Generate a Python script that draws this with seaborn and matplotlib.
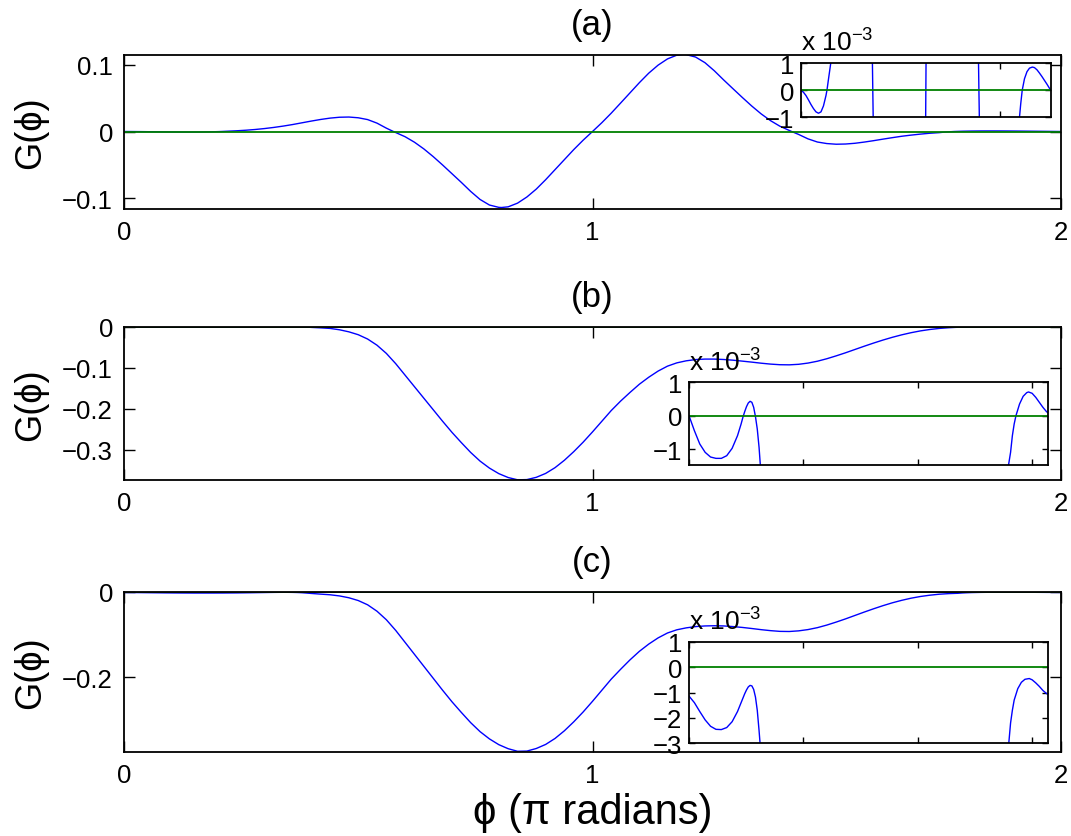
import numpy as np
import matplotlib
matplotlib.use("Agg")
import matplotlib.pyplot as plt
import matplotlib.transforms as mtransforms
import seaborn as sns

# phi in units of pi, G(phi)
phi_a = [0.00, 0.02, 0.04, 0.06, 0.08, 0.10, 0.12, 0.14, 0.16, 0.18, 0.20, 0.208, 0.22,
         0.24, 0.26, 0.28, 0.30, 0.32, 0.34, 0.36, 0.38, 0.40, 0.42, 0.44, 0.46, 0.48,
         0.50, 0.52, 0.54, 0.56, 0.575, 0.60, 0.62, 0.64, 0.66, 0.68, 0.70, 0.72, 0.74,
         0.76, 0.78, 0.80, 0.806, 0.82, 0.84, 0.86, 0.88, 0.90, 0.92, 0.94, 0.96, 0.98,
         1.00, 1.02, 1.04, 1.06, 1.08, 1.10, 1.12, 1.14, 1.16, 1.18, 1.194, 1.20, 1.22,
         1.24, 1.26, 1.28, 1.30, 1.32, 1.34, 1.36, 1.38, 1.40, 1.425, 1.44, 1.46, 1.48,
         1.50, 1.52, 1.54, 1.56, 1.58, 1.60, 1.62, 1.64, 1.66, 1.68, 1.70, 1.72, 1.74,
         1.75, 1.76, 1.772, 1.79, 1.81, 1.83, 1.853, 1.87, 1.89, 1.91, 1.93, 1.95, 1.97,
         1.99, 2.00]
G_a = [0.0, -0.00008, -0.00020, -0.00036, -0.00053, -0.00068, -0.00080, -0.00085,
       -0.00080, -0.00058, -0.00020, 0.0, 0.00040, 0.00105, 0.0019, 0.0030, 0.0044,
       0.0061, 0.0081, 0.0104, 0.0130, 0.0156, 0.0180, 0.0200, 0.0213, 0.0216, 0.0205,
       0.0178, 0.0125, 0.0050, 0.0, -0.0078, -0.0160, -0.0260, -0.0375, -0.0500, -0.0630,
       -0.0760, -0.0895, -0.1015, -0.1098, -0.1133, -0.1135, -0.1125, -0.1070, -0.0978,
       -0.0860, -0.0720, -0.0570, -0.0420, -0.0270, -0.0130, 0.0, 0.0132, 0.0274, 0.0425,
       0.0577, 0.0729, 0.0871, 0.0991, 0.1084, 0.1140, 0.1150, 0.1148, 0.1112, 0.1028,
       0.0907, 0.0770, 0.0638, 0.0507, 0.0380, 0.0263, 0.0162, 0.0079, 0.0, -0.0044,
       -0.0110, -0.0157, -0.0180, -0.0190, -0.0187, -0.0176, -0.0158, -0.0137, -0.0114,
       -0.0092, -0.0071, -0.0054, -0.0039, -0.0026, -0.0017, -0.0010, -0.0005, 0.0,
       0.00042, 0.00068, 0.00081, 0.00085, 0.00083, 0.00075, 0.00063, 0.00050, 0.00036,
       0.00022, 0.00007, 0.0]

phi_b = [0.00, 0.03, 0.06, 0.09, 0.12, 0.15, 0.18, 0.21, 0.24, 0.27, 0.29, 0.30, 0.31,
         0.32, 0.33, 0.34, 0.35, 0.36, 0.37, 0.38, 0.39, 0.40, 0.42, 0.44, 0.46, 0.48,
         0.50, 0.52, 0.54, 0.56, 0.58, 0.60, 0.62, 0.64, 0.66, 0.68, 0.70, 0.72, 0.74,
         0.76, 0.78, 0.80, 0.82, 0.84, 0.86, 0.88, 0.90, 0.92, 0.94, 0.96, 0.98, 1.00,
         1.02, 1.04, 1.06, 1.08, 1.10, 1.12, 1.14, 1.16, 1.18, 1.20, 1.22, 1.24, 1.26,
         1.28, 1.30, 1.32, 1.34, 1.36, 1.38, 1.40, 1.42, 1.44, 1.46, 1.48, 1.50, 1.52,
         1.54, 1.56, 1.58, 1.60, 1.62, 1.64, 1.66, 1.68, 1.70, 1.72, 1.74, 1.76, 1.775,
         1.79, 1.80, 1.81, 1.82, 1.84, 1.86, 1.88, 1.89, 1.91, 1.93, 1.95, 1.97, 1.99, 2.00]
G_b = [0.0, -0.00045, -0.00085, -0.00110, -0.00124, -0.00128, -0.00128, -0.00120,
       -0.00098, -0.00060, -0.00025, -0.00005, 0.00012, 0.00027, 0.00038, 0.00043,
       0.00040, 0.00025, -0.00003, -0.00040, -0.00095, -0.0017, -0.0028, -0.0042,
       -0.0075, -0.0125, -0.0195, -0.0300, -0.0450, -0.0650, -0.0900, -0.1180, -0.1460,
       -0.1740, -0.2020, -0.2300, -0.2570, -0.2820, -0.3060, -0.3270, -0.3440, -0.3575,
       -0.3670, -0.3725, -0.3720, -0.3665, -0.3570, -0.3430, -0.3250, -0.3040, -0.2810,
       -0.2560, -0.2300, -0.2040, -0.1810, -0.1600, -0.1400, -0.1230, -0.1080, -0.0960,
       -0.0880, -0.0830, -0.0800, -0.0788, -0.0788, -0.0798, -0.0815, -0.0838, -0.0862,
       -0.0888, -0.0910, -0.0925, -0.0928, -0.0915, -0.0885, -0.0840, -0.0780, -0.0710,
       -0.0635, -0.0555, -0.0475, -0.0398, -0.0325, -0.0258, -0.0198, -0.0146, -0.0102,
       -0.0068, -0.0042, -0.0025, -0.0016, -0.0011, -0.0006, -0.00025, 0.0, 0.00035,
       0.00058, 0.00069, 0.00071, 0.00067, 0.00055, 0.00040, 0.00025, 0.00012, 0.00008]

phi_c = [0.00, 0.03, 0.06, 0.09, 0.12, 0.15, 0.18, 0.21, 0.24, 0.27, 0.29, 0.31, 0.32,
         0.33, 0.34, 0.35, 0.36, 0.37, 0.38, 0.39, 0.40, 0.42, 0.44, 0.46, 0.48, 0.50,
         0.52, 0.54, 0.56, 0.58, 0.60, 0.62, 0.64, 0.66, 0.68, 0.70, 0.72, 0.74, 0.76,
         0.78, 0.80, 0.82, 0.84, 0.86, 0.88, 0.90, 0.92, 0.94, 0.96, 0.98, 1.00, 1.02,
         1.04, 1.06, 1.08, 1.10, 1.12, 1.14, 1.16, 1.18, 1.20, 1.22, 1.24, 1.26, 1.28,
         1.30, 1.32, 1.34, 1.36, 1.38, 1.40, 1.42, 1.44, 1.46, 1.48, 1.50, 1.52, 1.54,
         1.56, 1.58, 1.60, 1.62, 1.64, 1.66, 1.68, 1.70, 1.72, 1.74, 1.76, 1.78, 1.79,
         1.80, 1.81, 1.83, 1.85, 1.87, 1.894, 1.91, 1.93, 1.95, 1.97, 1.99, 2.00]
G_c = [-0.00114, -0.00140, -0.00175, -0.00208, -0.00233, -0.00245, -0.00246, -0.00238,
       -0.00215, -0.00175, -0.00140, -0.00105, -0.00090, -0.00078, -0.00072, -0.00074,
       -0.00088, -0.00118, -0.00170, -0.0025, -0.0034, -0.0050, -0.0065, -0.0092, -0.0135,
       -0.0200, -0.0300, -0.0450, -0.0650, -0.0900, -0.1180, -0.1460, -0.1740, -0.2020,
       -0.2300, -0.2570, -0.2820, -0.3060, -0.3270, -0.3440, -0.3575, -0.3670, -0.3730,
       -0.3725, -0.3665, -0.3570, -0.3430, -0.3250, -0.3040, -0.2810, -0.2560, -0.2300,
       -0.2040, -0.1810, -0.1590, -0.1390, -0.1220, -0.1075, -0.0960, -0.0885, -0.0840,
       -0.0810, -0.0795, -0.0790, -0.0795, -0.0810, -0.0830, -0.0855, -0.0882, -0.0905,
       -0.0922, -0.0925, -0.0910, -0.0880, -0.0835, -0.0775, -0.0705, -0.0630, -0.0550,
       -0.0470, -0.0393, -0.0320, -0.0253, -0.0195, -0.0145, -0.0105, -0.0075, -0.0052,
       -0.0038, -0.0030, -0.0022, -0.0017, -0.0013, -0.00085, -0.00060, -0.00048,
       -0.00045, -0.00050, -0.00062, -0.00076, -0.00092, -0.00104, -0.00109]

zero_phi = [0.0, 2.0]
zero_G = [0.0, 0.0]

panel_titles = ["(a)", "(b)", "(c)"]
main_yticks = [[-0.1, 0, 0.1], [-0.3, -0.2, -0.1, 0], [-0.2, 0]]
main_ylims = [(-0.115, 0.115), (-0.373, 0.0), (-0.374, 0.0)]
inset_ylims = [(-1, 1), (-1.47, 1), (-3, 1)]
inset_yticks = [[-1, 0, 1], [-1, 0, 1], [-3, -2, -1, 0, 1]]
inset_xticks = [[0, 5], [0, 2, 4, 6], [0, 2, 4, 6]]

sns.set_style("white")
plt.rcParams['font.family'] = ['Liberation Sans', 'DejaVu Sans']
plt.rcParams['mathtext.default'] = 'regular'
for key in ['text.color', 'axes.labelcolor', 'xtick.color', 'ytick.color']:
    plt.rcParams[key] = 'black'

W, H = 1071, 837
fig = plt.figure(figsize=(W / 100, H / 100), dpi=100)


def rect(l, t, r, b):
    return [l / W, 1 - b / H, (r - l) / W, (b - t) / H]


main_rects = [rect(124, 55.5, 1061, 209.5), rect(124, 327.7, 1061, 481),
              rect(124, 593, 1061, 752.7)]
inset_rects = [rect(801, 64, 1050.7, 118.3), rect(689, 383.3, 1048.3, 465.7),
               rect(689, 642.7, 1048.3, 744.3)]

blue = "#0000ff"
green = "#008000"
data = [(phi_a, G_a), (phi_b, G_b), (phi_c, G_c)]


def minus(s):
    return s.replace("-", "\u2212")


for k in range(3):
    phi, G = data[k]
    ax = fig.add_axes(main_rects[k])
    sns.lineplot(x=phi, y=G, ax=ax, color=blue, lw=1.0, estimator=None, sort=False)
    sns.lineplot(x=zero_phi, y=zero_G, ax=ax, color=green, lw=1.3, estimator=None)
    ax.set_xlim(0, 2)
    ax.set_ylim(*main_ylims[k])
    ax.set_xticks([0, 1, 2])
    ax.set_xticklabels(["0", "1", "2"])
    ax.set_yticks(main_yticks[k])
    ax.set_yticklabels([minus("%g" % v) for v in main_yticks[k]])
    ax.tick_params(direction="in", length=8, width=1, labelsize=18.5, pad=8,
                   top=True, right=True, bottom=True, left=True)
    for s in ax.spines.values():
        s.set_linewidth(1.3)
        s.set_color("black")
    ax.set_title(panel_titles[k], fontsize=25, pad=15)
    ax.set_ylabel("G(\u03d5)", fontsize=26)
    ax.yaxis.set_label_coords(-0.081, 0.5)
    if k == 2:
        ax.set_xlabel("\u03d5 (\u03c0 radians)", fontsize=30, labelpad=4)

    # inset: same curve zoomed in, x in radians, y in units of 1e-3
    ins = fig.add_axes(inset_rects[k])
    sns.lineplot(x=np.array(phi) * np.pi, y=np.array(G) * 1e3, ax=ins, color=blue,
                 lw=1.0, estimator=None, sort=False)
    sns.lineplot(x=np.array(zero_phi) * np.pi, y=zero_G, ax=ins, color=green, lw=1.3,
                 estimator=None)
    ins.set_xlim(0, 2 * np.pi)
    ins.set_ylim(*inset_ylims[k])
    ins.set_xticks(inset_xticks[k])
    ins.set_xticklabels([])
    ins.set_yticks(inset_yticks[k])
    ins.set_yticklabels([minus("%d" % v) for v in inset_yticks[k]])
    ins.tick_params(direction="in", length=4, width=1, labelsize=18.5, pad=5,
                    top=True, right=True, bottom=True, left=True)
    for s in ins.spines.values():
        s.set_linewidth(1.3)
        s.set_color("black")
    ins.set_xlabel("")
    ins.set_ylabel("")
    off = mtransforms.offset_copy(ins.transAxes, fig=fig, x=0, y=12, units="dots")
    ins.text(0.0, 1.0, "x 10$^{\u22123}$", transform=off, fontsize=19,
             ha="left", va="baseline")

fig.savefig("out.png", dpi=100)
